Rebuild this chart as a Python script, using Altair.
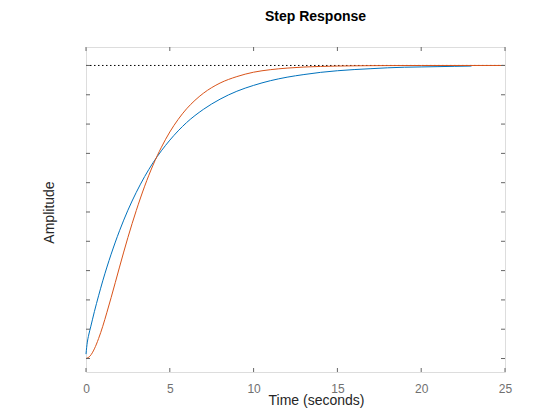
import altair as alt
import pandas as pd

# Series 1 (blue)
t_blue = [0, 0.04, 0.08, 0.16, 0.28, 0.5, 0.75, 1.0, 1.5, 2.0, 2.5, 3.0, 3.5, 4.0, 4.5, 5.0, 6.0,
          7.0, 8.0, 9.0, 10.0, 11.0, 12.0, 13.0, 14.0, 15.0, 16.0, 17.0, 18.0, 19.0, 20.0, 21.0,
          22.0, 23.0]
v_blue = [0.015, 0.038, 0.056, 0.08, 0.108, 0.16, 0.214, 0.265, 0.356, 0.436, 0.506, 0.567, 0.621,
          0.668, 0.709, 0.745, 0.805, 0.85, 0.885, 0.912, 0.932, 0.948, 0.96, 0.969, 0.9765, 0.982,
          0.986, 0.989, 0.992, 0.994, 0.995, 0.996, 0.997, 0.998]

# Series 2 (orange)
t_orange = [0, 0.25, 0.5, 0.75, 1.0, 1.25, 1.5, 2.0, 2.5, 3.0, 3.5, 4.0, 4.5, 5.0, 5.5, 6.0, 6.5,
            7.0, 8.0, 9.0, 10.0, 11.0, 12.0, 13.0, 14.0, 15.0, 16.0, 17.0, 18.0, 20.0, 25.0]
v_orange = [0, 0.009, 0.033, 0.068, 0.11, 0.158, 0.208, 0.312, 0.413, 0.505, 0.588, 0.66, 0.721,
            0.773, 0.816, 0.852, 0.881, 0.905, 0.94, 0.962, 0.977, 0.9856, 0.991, 0.9946, 0.9967,
            0.998, 0.9988, 0.9993, 0.9996, 0.9999, 1.0]

steady_t = [0, 25]
steady_v = [1.0, 1.0]

x_ticks = [0, 5, 10, 15, 20, 25]
y_ticks = [0, 0.1, 0.2, 0.3, 0.4, 0.5, 0.6, 0.7, 0.8, 0.9, 1.0]

W, H = 419, 325
X_DOM = [0, 25]
Y_DOM = [-0.046, 1.063]
AX = "#666666"

df = pd.concat([
    pd.DataFrame({"t": t_blue, "v": v_blue, "s": "sys1"}),
    pd.DataFrame({"t": t_orange, "v": v_orange, "s": "sys2"}),
])
df_ss = pd.DataFrame({"t": steady_t, "v": steady_v})
df_xt = pd.DataFrame({"t": x_ticks})
df_yt = pd.DataFrame({"v": y_ticks})

xs = alt.Scale(domain=X_DOM, nice=False, zero=False)
ys = alt.Scale(domain=Y_DOM, nice=False, zero=False)

x_axis = alt.Axis(values=x_ticks, title="Time (seconds)", grid=False, ticks=False, tickSize=0,
                  domain=False, labelFontSize=12, labelColor="#707070", labelFont="Liberation Sans",
                  labelBaseline="alphabetic", labelPadding=20, labelFlush=False,
                  titleFont="Liberation Sans", titleFontSize=14, titleFontWeight="normal",
                  titleColor="#262626", titleX=230, titleY=32, titleBaseline="alphabetic",
                  titleAnchor="start", titleAlign="center")
y_axis = alt.Axis(values=y_ticks, title="Amplitude", grid=False, ticks=False, tickSize=0,
                  domain=False, labels=False,
                  titleFont="Liberation Sans", titleFontSize=14, titleFontWeight="normal",
                  titleColor="#262626", titleX=-33, titleY=165, titleAngle=-90,
                  titleBaseline="alphabetic", titleAlign="center", titleAnchor="start")

steady = alt.Chart(df_ss).mark_line(color="black", strokeWidth=1, strokeDash=[1.5, 2.5]).encode(
    x=alt.X("t:Q", scale=xs, axis=x_axis),
    y=alt.Y("v:Q", scale=ys, axis=y_axis),
)

lines = alt.Chart(df).mark_line(strokeWidth=1, interpolate="monotone").encode(
    x=alt.X("t:Q", scale=xs),
    y=alt.Y("v:Q", scale=ys),
    color=alt.Color("s:N", scale=alt.Scale(domain=["sys1", "sys2"], range=["#0072BD", "#D95319"]),
                    legend=None),
    order=alt.Order("s:N"),
)

tick_bottom = alt.Chart(df_xt).mark_rule(color=AX, strokeWidth=1).encode(
    x=alt.X("t:Q", scale=xs), y=alt.value(H), y2=alt.value(H - 4))
tick_top = alt.Chart(df_xt).mark_rule(color=AX, strokeWidth=1).encode(
    x=alt.X("t:Q", scale=xs), y=alt.value(0), y2=alt.value(4))
tick_left = alt.Chart(df_yt).mark_rule(color=AX, strokeWidth=1).encode(
    y=alt.Y("v:Q", scale=ys), x=alt.value(0), x2=alt.value(4))
tick_right = alt.Chart(df_yt).mark_rule(color=AX, strokeWidth=1).encode(
    y=alt.Y("v:Q", scale=ys), x=alt.value(W), x2=alt.value(W - 4))

chart = alt.layer(steady, lines, tick_bottom, tick_top, tick_left, tick_right).properties(
    width=W, height=H,
    title=alt.TitleParams("Step Response", fontSize=14, fontWeight="bold", font="Liberation Sans",
                          color="black", dx=20, offset=12, baseline="alphabetic", anchor="middle"),
    autosize=alt.AutoSizeParams(type="none"),
    padding={"left": 86, "top": 47, "right": 55, "bottom": 48},
).configure_view(stroke=AX, strokeWidth=1).configure(background="white")

chart.save("out.html", embed_options={"renderer": "svg", "actions": False})
